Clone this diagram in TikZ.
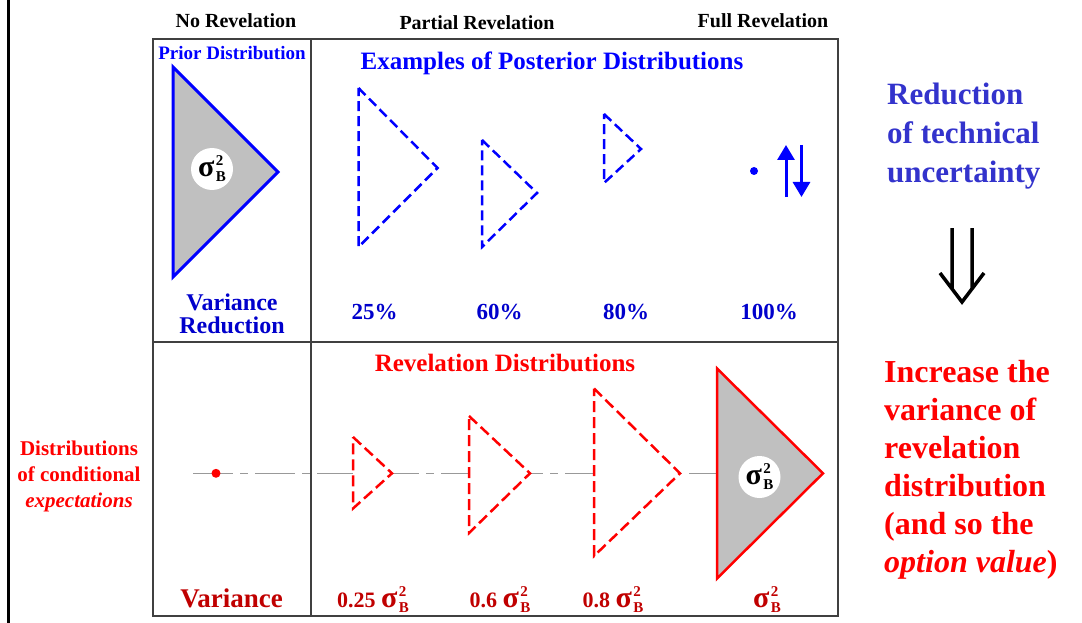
\documentclass[tikz,border=0pt]{standalone}
\usepackage{fontspec}
\setmainfont{Liberation Serif}
\usepackage{tikz}
\usetikzlibrary{arrows.meta}
\definecolor{postblue}{RGB}{0,0,255}
\definecolor{varblue}{RGB}{0,0,204}
\definecolor{techblue}{RGB}{51,51,204}
\definecolor{revred}{RGB}{255,0,0}
\definecolor{labred}{RGB}{192,0,0}
\definecolor{shade}{RGB}{192,192,192}
\definecolor{rulegray}{RGB}{64,64,64}
\newcommand{\sigB}{{\fontsize{30}{30}\selectfont σ}\kern1.5pt\rlap{\raisebox{11pt}{\fontsize{15}{15}\selectfont 2}}\raisebox{-5pt}{\fontsize{15}{15}\selectfont B}}

\begin{document}
\begin{tikzpicture}[x=1pt, y=-1pt,
  colhead/.style={font=\fontsize{20}{24}\selectfont\bfseries, inner sep=0pt},
  bluetitle/.style={text=postblue, font=\fontsize{#1}{#1}\selectfont\bfseries, inner sep=0pt},
  pct/.style={text=varblue, font=\fontsize{23}{23}\selectfont\bfseries, inner sep=0pt},
  redtitle/.style={text=revred, font=\fontsize{25}{25}\selectfont\bfseries, inner sep=0pt},
  varlab/.style={text=labred, font=\fontsize{22}{22}\selectfont\bfseries, inner sep=0pt},
  sigdisc/.style={circle, fill=white, minimum size=42pt, inner sep=0pt,
                  font=\bfseries},
  dot/.style={circle, fill=#1, inner sep=0pt},
  boxline/.style={draw=rulegray, line width=2pt},
  posttri/.style={draw=postblue, line width=2.5pt, dash pattern=on 10pt off 5pt},
  revtri/.style={draw=revred, fill=white, line width=2.5pt, dash pattern=on 11pt off 5pt},
  axisline/.style={draw=gray!80, line width=1.5pt, dash pattern=on 40pt off 7pt on 8pt off 7pt},
  updn/.style={-{Triangle[length=15pt,width=17pt]}, draw=postblue, line width=3pt},
]
\useasboundingbox (0,0) rectangle (1082,623);

% frame
\draw[line width=3pt] (8,0) -- (8,623);
\draw[boxline] (153,39) rectangle (838,616);
\draw[boxline] (153,342) -- (838,342);
\draw[boxline] (311,39) -- (311,616);

% column headings
\node[colhead] (hdrno)   at (236,21) {No Revelation};
\node[colhead] (hdrpart) at (477,23) {Partial Revelation};
\node[colhead] (hdrfull) at (763,21) {Full Revelation};

% prior
\node[bluetitle=19] (prior) at (232,53) {Prior Distribution};
\draw[draw=postblue, fill=shade, line width=3pt, line join=miter]
  (173,67) -- (278,172) -- (173,277) -- cycle;
\node[sigdisc] (sigprior) at (212,169) {\sigB};
\node[text=varblue, font=\fontsize{24}{23}\selectfont\bfseries, align=center, inner sep=0pt]
  (varred) at (232,313.5) {Variance\\Reduction};

% posterior distributions
\node[bluetitle=25] (examples) at (552,63) {Examples of Posterior Distributions};
\draw[posttri] (358.5,88) -- (437.5,168) -- (358.5,247) -- cycle;
\draw[posttri] (482,140) -- (537,193) -- (482,247) -- cycle;
\draw[posttri] (604,114) -- (641,149) -- (604,183) -- cycle;
\node[dot=postblue, minimum size=8pt] (bdot) at (754,171) {};
\draw[updn] (786,197) -- (786,145);
\draw[updn] (801.5,145) -- (801.5,197);

\node[pct] (p25)  at (374.5,312) {25\%};
\node[pct] (p60)  at (499.5,312) {60\%};
\node[pct] (p80)  at (626,312)   {80\%};
\node[pct] (p100) at (769,312)   {100\%};

% revelation distributions
\node[redtitle] (revdist) at (505,363) {Revelation Distributions};
\coordinate (ax0) at (193,473.3);
\coordinate (ax1) at (717,473.3);
\draw[axisline] (ax0) -- (ax1);
\node[dot=revred, minimum size=9pt] (rdot) at (216,473.3) {};
\draw[revtri] (353,437) -- (392,473.3) -- (353,508.5) -- cycle;
\draw[revtri] (469,416) -- (530,473.3) -- (469,533) -- cycle;
\draw[revtri] (594,388.5) -- (680,473.3) -- (594,556) -- cycle;
\draw[draw=revred, fill=shade, line width=2.5pt, line join=miter]
  (717,368.5) -- (823,473.3) -- (717,578.5) -- cycle;
\node[sigdisc] (sigfull) at (759.5,477) {\sigB};

\node[text=labred, font=\fontsize{27}{27}\selectfont\bfseries, inner sep=0pt]
  (variance) at (231.5,598) {Variance};
\node[varlab] (v25)   at (373,600) {0.25 \sigB};
\node[varlab] (v60)   at (500,600) {0.6 \sigB};
\node[varlab] (v80)   at (613,600) {0.8 \sigB};
\node[varlab] (vfull) at (767,600) {\sigB};

% side texts
\node[text=revred, font=\fontsize{21}{26}\selectfont\bfseries, align=center, inner sep=0pt]
  (condexp) at (79,476) {Distributions\\of conditional\\\textit{expectations}};
\node[text=techblue, font=\fontsize{31}{39}\selectfont\bfseries, align=left,
      anchor=west, inner sep=0pt]
  (techunc) at (887,136) {Reduction\\of technical\\uncertainty};
\node[text=revred, font=\fontsize{32}{38}\selectfont\bfseries, align=left,
      anchor=west, inner sep=0pt]
  (incvar) at (884,470) {Increase the\\variance of\\revelation\\distribution\\(and so the\\\textit{option value})};

% implies arrow
\draw[line width=3.5pt, line join=miter]
  (952,228) -- (952,289) (972,228) -- (972,289)
  (940,273) -- (962,302) -- (984,273);
\end{tikzpicture}
\end{document}
